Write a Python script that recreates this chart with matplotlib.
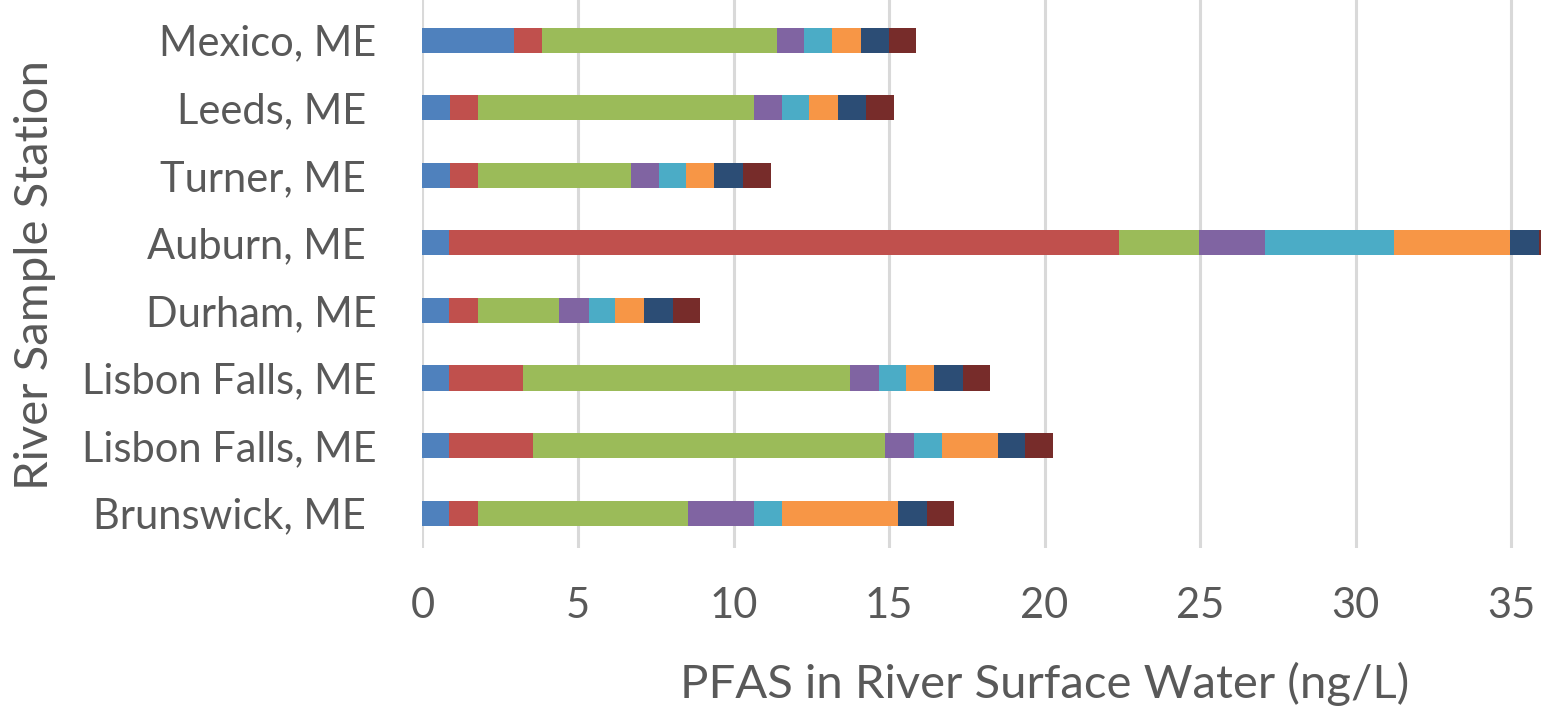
import matplotlib
matplotlib.use("Agg")
import matplotlib.pyplot as plt
import numpy as np

# Sampling stations, listed top to bottom
stations = ["Mexico, ME", "Leeds, ME ", "Turner, ME ", "Auburn, ME ",
            "Durham, ME", "Lisbon Falls, ME", "Lisbon Falls, ME", "Brunswick, ME "]

# Concentration of each PFAS component at each station (ng/L)
comp_1 = [2.95, 0.88, 0.88, 0.86, 0.86, 0.86, 0.86, 0.86]
comp_2 = [0.88, 0.91, 0.91, 21.54, 0.91, 2.38, 2.70, 0.92]
comp_3 = [7.56, 8.86, 4.91, 2.58, 2.63, 10.52, 11.32, 6.77]
comp_4 = [0.87, 0.91, 0.90, 2.10, 0.94, 0.92, 0.91, 2.11]
comp_5 = [0.92, 0.88, 0.87, 4.15, 0.86, 0.86, 0.91, 0.91]
comp_6 = [0.91, 0.91, 0.91, 3.73, 0.91, 0.90, 1.79, 3.72]
comp_7 = [0.91, 0.91, 0.93, 0.95, 0.93, 0.95, 0.89, 0.92]
comp_8 = [0.86, 0.90, 0.89, 0.90, 0.89, 0.87, 0.90, 0.88]

x_ticks = [0, 5, 10, 15, 20, 25, 30, 35]

components = [comp_1, comp_2, comp_3, comp_4, comp_5, comp_6, comp_7, comp_8]
colors = ["#4F81BD", "#C0504D", "#9BBB59", "#8064A2",
          "#4BACC6", "#F79646", "#2C4D75", "#772C2A"]

plt.rcParams["font.family"] = ["Lato", "DejaVu Sans"]
text_color = "#595959"

W, H = 1547, 710
fig = plt.figure(figsize=(W / 100, H / 100), dpi=100)
ax = fig.add_axes([422.5 / W, 1 - 548 / H, (1541 - 422.5) / W, 548 / H])

ypos = np.arange(len(stations))
left = np.zeros(len(stations))
for vals, col in zip(components, colors):
    ax.barh(ypos, vals, left=left, height=0.37, color=col, zorder=3)
    left += np.array(vals)

ax.set_xlim(0, 35.96)
ax.set_ylim(7.515, -0.592)
ax.set_xticks(x_ticks)
ax.set_xticklabels([str(t) for t in x_ticks])
ax.set_yticks(ypos)
ax.set_yticklabels(stations)

ax.grid(axis="x", color="#D9D9D9", linewidth=2.2, zorder=0)
ax.set_axisbelow(True)
for s in ax.spines.values():
    s.set_visible(False)

ax.tick_params(axis="both", length=0, labelsize=30, labelcolor=text_color)
ax.tick_params(axis="y", pad=33)
ax.tick_params(axis="x", pad=28)

fig.text(35 / W, 1 - 275 / H, "River Sample Station", rotation=90,
         ha="center", va="center", fontsize=34, color=text_color)
fig.text(1045 / W, 1 - 684 / H, "PFAS in River Surface Water (ng/L)",
         ha="center", va="center", fontsize=34, color=text_color)

fig.savefig("out.png", dpi=100, facecolor="white")
